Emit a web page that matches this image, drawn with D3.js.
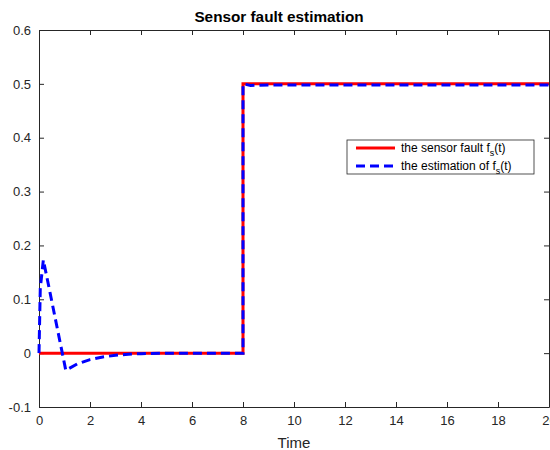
<!DOCTYPE html>
<html>
<head>
<meta charset="utf-8">
<script src="https://cdn.jsdelivr.net/npm/d3@7"></script>
<style>
  body { margin: 0; background: #fff; }
  svg { font-family: "Liberation Sans", Arial, sans-serif; }
</style>
</head>
<body>
<svg id="chart" width="550" height="450"></svg>
<script>
// sensor fault f_s(t): step from 0 to 0.5 at t = 8
const faultT = [0, 8, 8, 20];
const faultV = [0, 0, 0.5, 0.5];

// estimation of f_s(t)
const estT = [0, 0.05, 0.17, 0.4, 0.7, 1.0, 1.05, 1.5, 2.0, 2.5, 3.0, 3.5, 4.0, 5.0, 6.0, 7.0, 8.0, 8.0, 8.3, 9.0, 20];
const estV = [0, 0.12, 0.173, 0.12, 0.05, -0.02, -0.032, -0.02, -0.012, -0.007, -0.004, -0.002, -0.001, 0, 0, 0, 0, 0.5, 0.497, 0.498, 0.498];

const xTicks = [0, 2, 4, 6, 8, 10, 12, 14, 16, 18, 20];
const yTicks = [-0.1, 0, 0.1, 0.2, 0.3, 0.4, 0.5, 0.6];

const svg = d3.select('#chart');
const margin = { left: 39, right: 549, top: 30, bottom: 407 };

const x = d3.scaleLinear().domain([0, 20]).range([margin.left, margin.right]);
const y = d3.scaleLinear().domain([-0.1, 0.6]).range([margin.bottom, margin.top]);

const axisColor = '#262626';

// Axes (box style)
svg.append('g')
    .attr('transform', `translate(0,${margin.bottom})`)
    .call(d3.axisBottom(x).tickValues(xTicks).tickSize(-5).tickPadding(9).tickSizeOuter(0));
svg.append('g')
    .attr('transform', `translate(0,${margin.top})`)
    .call(d3.axisTop(x).tickValues(xTicks).tickSize(-5).tickFormat('').tickSizeOuter(0));
svg.append('g')
    .attr('transform', `translate(${margin.left},0)`)
    .call(d3.axisLeft(y).tickValues(yTicks).tickSize(-5).tickPadding(8).tickSizeOuter(0)
        .tickFormat(d => d3.format('.1f')(d).replace('0.0', '0').replace('−', '-')));
svg.append('g')
    .attr('transform', `translate(${margin.right},0)`)
    .call(d3.axisRight(y).tickValues(yTicks).tickSize(-5).tickFormat('').tickSizeOuter(0));

svg.selectAll('.domain').attr('stroke', axisColor);
svg.selectAll('.tick line').attr('stroke', axisColor);
svg.selectAll('.tick text').attr('fill', axisColor).style('font-size', '13px');

// Lines
const line = d3.line().x(d => x(d[0])).y(d => y(d[1]));

svg.append('path')
    .datum(d3.zip(faultT, faultV))
    .attr('d', line)
    .attr('fill', 'none')
    .attr('stroke', '#ff0000')
    .attr('stroke-width', 3);

svg.append('path')
    .datum(d3.zip(estT, estV))
    .attr('d', line)
    .attr('fill', 'none')
    .attr('stroke', '#0000ff')
    .attr('stroke-width', 3)
    .attr('stroke-dasharray', '9,5');

// Title & label
svg.append('text')
    .attr('x', 279).attr('y', 22)
    .attr('text-anchor', 'middle')
    .style('font-size', '15.3px').style('font-weight', 'bold')
    .attr('fill', '#000')
    .text('Sensor fault estimation');

svg.append('text')
    .attr('x', 294).attr('y', 448)
    .attr('text-anchor', 'middle')
    .style('font-size', '15px')
    .attr('fill', axisColor)
    .text('Time');

// Legend
const leg = svg.append('g').attr('transform', 'translate(347,140)');
leg.append('rect')
    .attr('width', 187).attr('height', 34)
    .attr('fill', '#fff').attr('stroke', axisColor).attr('stroke-width', 0.8);

const legItems = [
    { color: '#ff0000', dash: null, label: 'the sensor fault f' },
    { color: '#0000ff', dash: '9,5', label: 'the estimation of f' }
];
legItems.forEach((it, i) => {
    const yy = 8 + i * 18;
    leg.append('line')
        .attr('x1', 9).attr('x2', 48).attr('y1', yy).attr('y2', yy)
        .attr('stroke', it.color).attr('stroke-width', 3)
        .attr('stroke-dasharray', it.dash);
    const t = leg.append('text')
        .attr('x', 54).attr('y', yy + 4)
        .style('font-size', '12px').attr('fill', '#000');
    t.append('tspan').text(it.label);
    t.append('tspan').attr('dy', 4).style('font-size', '9px').text('s');
    t.append('tspan').attr('dy', -4).text('(t)');
});
</script>
</body>
</html>
